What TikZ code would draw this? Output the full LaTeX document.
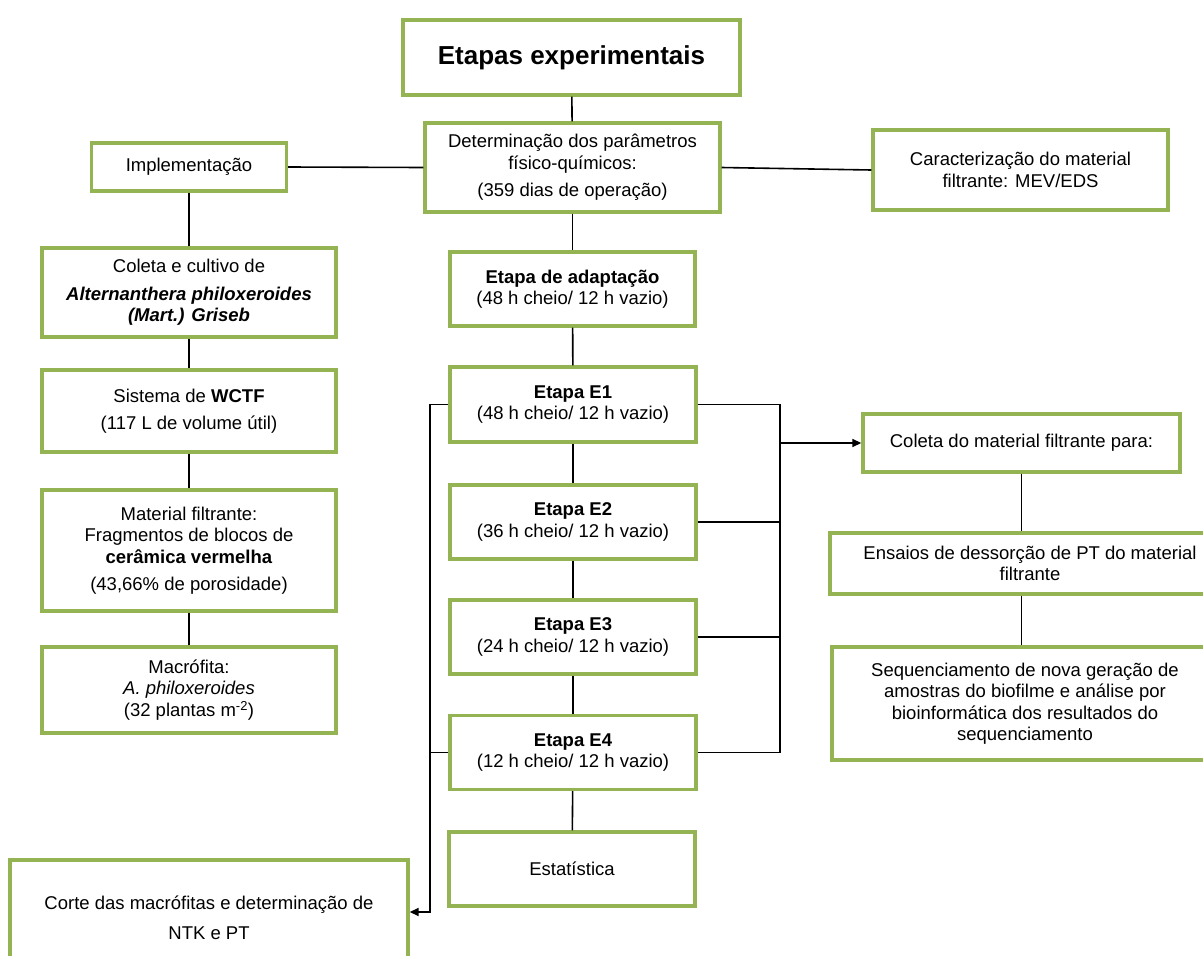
\documentclass[tikz,border=0pt]{standalone}
\usepackage{fontspec}
\setmainfont{Liberation Sans}
\usetikzlibrary{arrows.meta, positioning}
\definecolor{boxgreen}{RGB}{148,180,84}

\begin{document}
\begin{tikzpicture}[x=1pt, y=-1pt,
  box/.style={draw=boxgreen, line width=3.4pt, fill=white, align=center,
    inner sep=2pt, font=\fontsize{18.5}{21.5}\selectfont},
  link/.style={line width=1.6pt},
  arrow/.style={link, -{Triangle[length=9pt,width=8pt]}}]
  \clip (0,0) rectangle (1203,956);

  % top and centre column
  \node[box, minimum width=337pt, minimum height=75pt] (title) at (571.5,57.5)
    {\fontsize{26}{30}\selectfont\bfseries Etapas experimentais};
  \node[box, minimum width=295pt, minimum height=89pt] (param) at (572.5,167.5)
    {Determinação dos parâmetros\\ físico-químicos:\\[6pt] (359 dias de operação)};
  \node[box, minimum width=195pt, minimum height=48pt] (impl) at (189,167)
    {Implementação};
  \node[box, minimum width=295pt, minimum height=80pt] (carac) at (1020.5,170)
    {Caracterização do material\\ filtrante: MEV/EDS};
  \node[box, minimum width=245pt, minimum height=74pt] (adapt) at (572.5,289)
    {\textbf{Etapa de adaptação}\\ (48 h cheio/ 12 h vazio)};
  \node[box, minimum width=246pt, minimum height=75pt] (E1) at (573,404.5)
    {\textbf{Etapa E1}\\ (48 h cheio/ 12 h vazio)};
  \node[box, minimum width=246pt, minimum height=74pt] (E2) at (573,522)
    {\textbf{Etapa E2}\\ (36 h cheio/ 12 h vazio)};
  \node[box, minimum width=246pt, minimum height=74pt] (E3) at (573,637)
    {\textbf{Etapa E3}\\ (24 h cheio/ 12 h vazio)};
  \node[box, minimum width=246pt, minimum height=74pt] (E4) at (573,752.5)
    {\textbf{Etapa E4}\\ (12 h cheio/ 12 h vazio)};
  \node[box, minimum width=246pt, minimum height=74pt] (estat) at (572,869)
    {Estatística};

  % left column
  \node[box, minimum width=294pt, minimum height=89pt] (coleta) at (189,292.5)
    {Coleta e cultivo de\\[6pt] \textbf{\itshape Alternanthera philoxeroides}\\
     \textbf{\itshape (Mart.) Griseb}};
  \node[box, minimum width=294pt, minimum height=82pt] (wctf) at (189,411)
    {Sistema de \textbf{WCTF}\\[6pt] (117 L de volume útil)};
  \node[box, minimum width=294pt, minimum height=121pt] (mat) at (189,550.5)
    {Material filtrante:\\ Fragmentos de blocos de\\ \textbf{cerâmica vermelha}\\[6pt]
     (43,66\% de porosidade)};
  \node[box, minimum width=294pt, minimum height=86pt] (macro) at (189,690)
    {Macrófita:\\ \textit{A. philoxeroides}\\ (32 plantas m\textsuperscript{-2})};
  \node[box, minimum width=398pt, minimum height=116pt] (corte) at (209,918)
    {Corte das macrófitas e determinação de\\[8pt] NTK e PT};

  % right column
  \node[box, minimum width=317pt, minimum height=58pt] (colMat) at (1021.5,443)
    {Coleta do material filtrante para:};
  \node[box, minimum width=400pt, minimum height=61pt] (ensaios) at (1030,563.5)
    {Ensaios de dessorção de PT do material\\ filtrante};
  \node[box, minimum width=386pt, minimum height=113pt] (seq) at (1025,703.5)
    {Sequenciamento de nova geração de\\ amostras do biofilme e análise por\\
     bioinformática dos resultados do\\ sequenciamento};

  % bus lines
  \coordinate (busL) at (430,912);
  \coordinate (busR) at (780,752.5);
  \coordinate (busA) at (780,443);

  \draw[link] (title) -- (param);
  \draw[link] (param) -- (adapt);
  \draw[link] (adapt) -- (E1);
  \draw[link] (E1) -- (E2);
  \draw[link] (E2) -- (E3);
  \draw[link] (E3) -- (E4);
  \draw[link] (E4) -- (estat);
  \draw[link] (param.west) -- (impl.east);
  \draw[link] (param.east) -- (carac.west);
  \draw[link] (impl) -- (coleta);
  \draw[link] (coleta) -- (wctf);
  \draw[link] (wctf) -- (mat);
  \draw[link] (mat) -- (macro);
  \draw[arrow] (E1.west) -| (busL) -- (busL -| corte.east);
  \draw[link] (E4.west) -- (E4.west -| busL);
  \draw[link] (E1.east) -| (busR) -- (E4.east);
  \draw[link] (E2.east) -- (E2.east -| busR);
  \draw[link] (E3.east) -- (E3.east -| busR);
  \draw[arrow] (busA) -- (colMat.west);
  \draw[link] (colMat.south) -- (colMat.south |- ensaios.north);
  \draw[link] (ensaios.south -| colMat.south) -- (seq.north -| colMat.south);
\end{tikzpicture}
\end{document}
